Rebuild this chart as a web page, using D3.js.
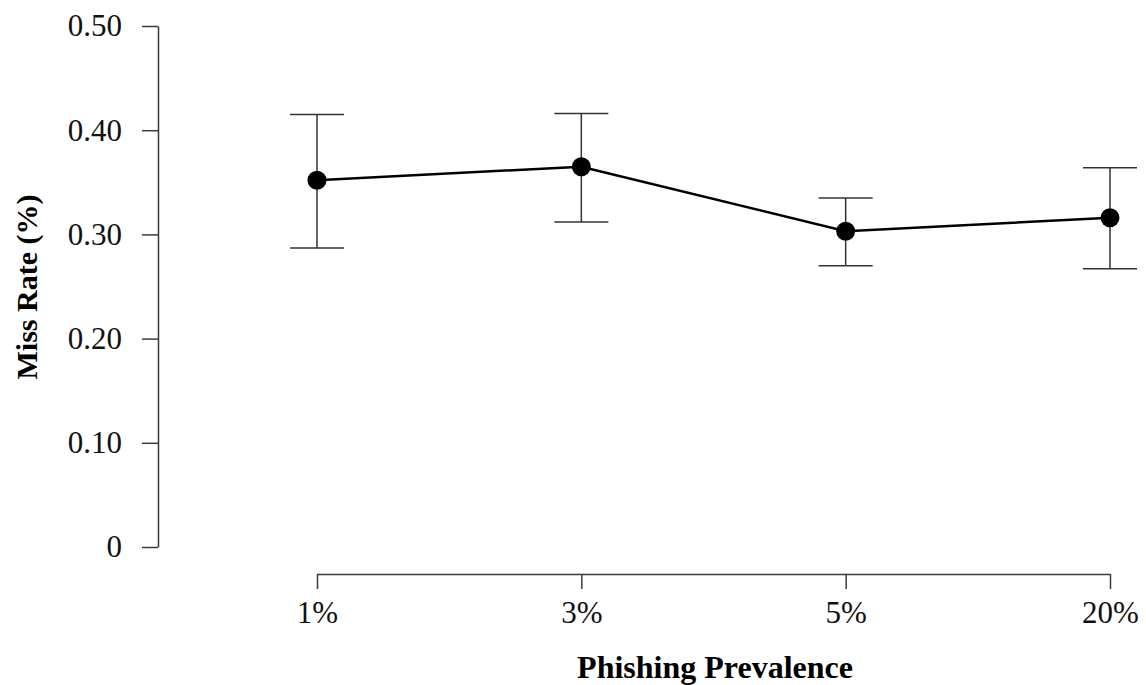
<!DOCTYPE html>
<html>
<head>
<meta charset="utf-8">
<script src="https://cdn.jsdelivr.net/npm/d3@7"></script>
<style>
  body { margin: 0; background: #fff; }
  svg { display: block; }
  text { font-family: 'Liberation Serif', 'Times New Roman', serif; }
</style>
</head>
<body>
<svg id="chart" width="1146" height="685"></svg>
<script>
// values
const categories = ['1%', '3%', '5%', '20%']
const missRate = [0.352, 0.365, 0.303, 0.316]
const upper = [0.415, 0.416, 0.335, 0.364]
const lower = [0.287, 0.312, 0.270, 0.267]
const yTicks = [0, 0.1, 0.2, 0.3, 0.4, 0.5]

const width = 1146,
    height = 685

const svg = d3.select('#chart')

const x = d3.scalePoint()
    .domain(categories)
    .range([317, 1110])

const y = d3.scaleLinear()
    .domain([0, 0.5])
    .range([547, 26])

const axisColor = '#3a3a3a'

// y axis
const yAxis = svg.append('g')
    .attr('transform', 'translate(158,0)')
    .call(d3.axisLeft(y)
        .tickValues(yTicks)
        .tickFormat(d => d === 0 ? '0' : d.toFixed(2))
        .tickSize(16)
        .tickSizeOuter(0)
        .tickPadding(20))

// x axis
const xAxis = svg.append('g')
    .attr('transform', 'translate(0,574)')
    .call(d3.axisBottom(x)
        .tickSize(15)
        .tickSizeOuter(0)
        .tickPadding(12))

for (const ax of [yAxis, xAxis]) {
    ax.select('.domain').attr('stroke', axisColor).attr('stroke-width', 1.5)
    ax.selectAll('.tick line').attr('stroke', axisColor).attr('stroke-width', 1.5)
    ax.selectAll('.tick text')
        .attr('fill', '#111')
        .style('font-size', '31px')
        .style('font-family', "'Liberation Serif', 'Times New Roman', serif")
}

const data = categories.map((c, i) => ({ cat: c, v: missRate[i], hi: upper[i], lo: lower[i] }))

// error bars
const bars = svg.append('g')
    .attr('stroke', '#333')
    .attr('stroke-width', 1.5)
    .attr('fill', 'none')

const cap = 27
bars.selectAll('line.stem')
    .data(data)
    .join('line')
    .attr('class', 'stem')
    .attr('x1', d => x(d.cat)).attr('x2', d => x(d.cat))
    .attr('y1', d => y(d.hi)).attr('y2', d => y(d.lo))

bars.selectAll('line.top')
    .data(data)
    .join('line')
    .attr('class', 'top')
    .attr('x1', d => x(d.cat) - cap).attr('x2', d => x(d.cat) + cap)
    .attr('y1', d => y(d.hi)).attr('y2', d => y(d.hi))

bars.selectAll('line.bot')
    .data(data)
    .join('line')
    .attr('class', 'bot')
    .attr('x1', d => x(d.cat) - cap).attr('x2', d => x(d.cat) + cap)
    .attr('y1', d => y(d.lo)).attr('y2', d => y(d.lo))

// connecting line
svg.append('path')
    .datum(data)
    .attr('fill', 'none')
    .attr('stroke', '#000')
    .attr('stroke-width', 2.5)
    .attr('d', d3.line().x(d => x(d.cat)).y(d => y(d.v)))

// points
svg.append('g')
    .selectAll('circle')
    .data(data)
    .join('circle')
    .attr('cx', d => x(d.cat))
    .attr('cy', d => y(d.v))
    .attr('r', 9.5)
    .attr('fill', '#000')

// axis titles
svg.append('text')
    .attr('x', 715)
    .attr('y', 678)
    .attr('text-anchor', 'middle')
    .attr('font-weight', 'bold')
    .attr('font-size', 32)
    .attr('fill', '#000')
    .text('Phishing Prevalence')

svg.append('text')
    .attr('transform', 'translate(37,287) rotate(-90)')
    .attr('text-anchor', 'middle')
    .attr('font-weight', 'bold')
    .attr('font-size', 30)
    .attr('fill', '#000')
    .text('Miss Rate (%)')
</script>
</body>
</html>
